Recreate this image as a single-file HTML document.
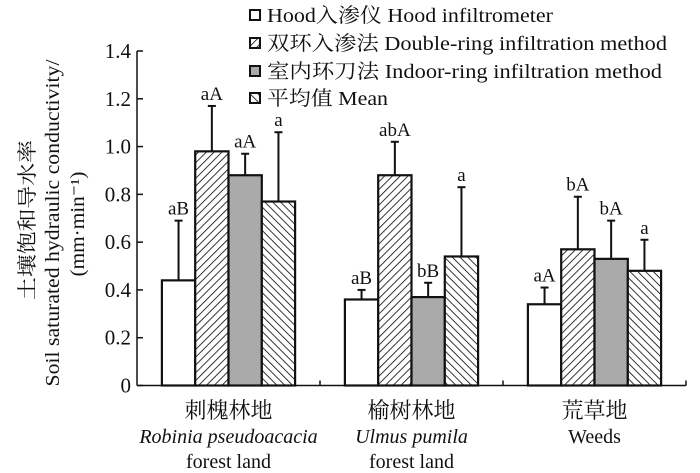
<!DOCTYPE html>
<html><head><meta charset="utf-8"><style>
html,body{margin:0;padding:0;background:#fff;width:700px;height:473px;overflow:hidden}
svg{display:block;font-family:"Liberation Serif","Noto Serif CJK SC","Noto Sans CJK SC",serif}
</style></head><body>
<svg id="chart" width="700" height="473" viewBox="0 0 700 473" xmlns="http://www.w3.org/2000/svg">
<defs>
<pattern id="hatchUp" patternUnits="userSpaceOnUse" width="5.5" height="5.5" patternTransform="rotate(45)"><rect width="6" height="6" fill="#fff"/><line x1="0" y1="0" x2="0" y2="6" stroke="#111" stroke-width="1.7"/></pattern>
<pattern id="hatchDown" patternUnits="userSpaceOnUse" width="5.5" height="5.5" patternTransform="rotate(-45)"><rect width="6" height="6" fill="#fff"/><line x1="0" y1="0" x2="0" y2="6" stroke="#111" stroke-width="1.7"/></pattern>
</defs>
<g id="plot"></g>
</svg>
<script>
const categories = ["刺槐林地", "榆树林地", "荒草地"];
const catLatin1 = ["Robinia pseudoacacia", "Ulmus pumila", "Weeds"];
const catLatin2 = ["forest land", "forest land", ""];
const seriesNames = ["Hood入渗仪 Hood infiltrometer", "双环入渗法 Double-ring infiltration method", "室内环刀法 Indoor-ring infiltration method", "平均值 Mean"];
const hoodValues = [0.44, 0.36, 0.34];
const doubleRingValues = [0.98, 0.88, 0.57];
const indoorRingValues = [0.88, 0.37, 0.53];
const meanValues = [0.77, 0.54, 0.48];
const hoodErrTop = [0.69, 0.40, 0.41];
const doubleRingErrTop = [1.17, 1.02, 0.79];
const indoorRingErrTop = [0.97, 0.43, 0.69];
const meanErrTop = [1.06, 0.83, 0.61];
const hoodLabels = ["aB", "aB", "aA"];
const doubleRingLabels = ["aA", "abA", "bA"];
const indoorRingLabels = ["aA", "bB", "bA"];
const meanLabels = ["a", "a", "a"];
const yTicks = [0, 0.2, 0.4, 0.6, 0.8, 1.0, 1.2, 1.4];
const yTickLabels = ["0", "0.2", "0.4", "0.6", "0.8", "1.0", "1.2", "1.4"];

const NS = "http://www.w3.org/2000/svg";
const g = document.getElementById("plot");
const X0 = 137, X1 = 686, Y0 = 385.5, Y1 = 51, YMAX = 1.4;
const groupW = (X1 - X0) / categories.length;
const barW = 33.3;
function yScale(v){ return Y0 - (v / YMAX) * (Y0 - Y1); }
function groupX(i){ return X0 + i * groupW; }
function barX(gi, si){ return groupX(gi) + (groupW - 4 * barW) / 2 + si * barW; }
function mk(tag, attrs, text){
  const e = document.createElementNS(NS, tag);
  for (const k in attrs) e.setAttribute(k, attrs[k]);
  if (text !== undefined) e.textContent = text;
  g.appendChild(e);
  return e;
}
const fills = ["#fff", "url(#hatchUp)", "#aaaaaa", "url(#hatchDown)"];
const values = [hoodValues, doubleRingValues, indoorRingValues, meanValues];
const errs = [hoodErrTop, doubleRingErrTop, indoorRingErrTop, meanErrTop];
const labels = [hoodLabels, doubleRingLabels, indoorRingLabels, meanLabels];
const keys = ["hood", "double-ring", "indoor-ring", "mean"];

for (let si = 0; si < 4; si++) for (let gi = 0; gi < categories.length; gi++) {
  const cx = barX(gi, si) + barW / 2;
  const l = mk("line", {x1: cx, x2: cx, y1: yScale(values[si][gi]), y2: yScale(errs[si][gi]), stroke: "#111", "stroke-width": 2});
  
  
  const c = mk("line", {x1: cx - 4, x2: cx + 4, y1: yScale(errs[si][gi]), y2: yScale(errs[si][gi]), stroke: "#111", "stroke-width": 2});
  
  
  const t = mk("text", {x: cx, y: yScale(errs[si][gi]) - 6, "text-anchor": "middle", "font-size": 19, fill: "#111"}, labels[si][gi]);
  
  
}
for (let si = 0; si < 4; si++) for (let gi = 0; gi < categories.length; gi++) {
  const y = yScale(values[si][gi]);
  const r = mk("rect", {x: barX(gi, si), y: y, width: barW, height: Y0 - y, fill: fills[si], stroke: "#111", "stroke-width": 2.2});
  
  
}
let a = mk("line", {x1: X0, x2: X0, y1: Y1, y2: Y0, stroke: "#111", "stroke-width": 1.5});


a = mk("line", {x1: X0, x2: X1, y1: Y0, y2: Y0, stroke: "#111", "stroke-width": 1.5});


yTicks.forEach((v, i) => {
  const y = yScale(v);
  const tk = mk("line", {x1: X0, x2: X0 + 6, y1: y, y2: y, stroke: "#111", "stroke-width": 1.5});
  
  
  const tl = mk("text", {x: X0 - 6, y: y + 7, "text-anchor": "end", "font-size": 21, fill: "#111"}, yTickLabels[i]);
  
  
});
for (let gi = 1; gi <= categories.length; gi++) {
  const x = groupX(gi);
  const tk = mk("line", {x1: x, x2: x, y1: Y0, y2: Y0 - 5, stroke: "#111", "stroke-width": 1.5});
  
  
}
categories.forEach((c, gi) => {
  const cx = groupX(gi) + groupW / 2;
  const t1 = mk("text", {x: cx, y: 418, "text-anchor": "middle", "font-size": 22, fill: "#111"}, c);
  
  
  const t2 = mk("text", {x: cx, y: 443, "text-anchor": "middle", "font-size": 20, fill: "#111", "font-style": gi < 2 ? "italic" : "normal"}, catLatin1[gi]);
  
  
  if (catLatin2[gi]) {
    const t3 = mk("text", {x: cx, y: 468, "text-anchor": "middle", "font-size": 20, fill: "#111"}, catLatin2[gi]);
    
    
  }
});
const legendY = [15, 43, 71, 98];
const legendLen = [286, 400, 395, 121];
seriesNames.forEach((n, si) => {
  const r = mk("rect", {x: 250, y: legendY[si] - 5, width: 10, height: 10, fill: fills[si], stroke: "#111", "stroke-width": 2});
  
  
  const t = mk("text", {x: 267, y: legendY[si] + 7, "font-size": 20, fill: "#111", textLength: legendLen[si], lengthAdjust: "spacingAndGlyphs"}, n);
  
  
});
const yt = [["土壤饱和导水率", 28, 160, 220], ["Soil saturated hydraulic conductivity/", 53, 327, 223], ["(mm·min⁻¹)", 78, 105, 224]];
yt.forEach((p) => {
  const t = mk("text", {x: p[1], y: p[3], "text-anchor": "middle", "font-size": 20, fill: "#111", textLength: p[2], lengthAdjust: "spacingAndGlyphs", transform: "rotate(-90 " + p[1] + " " + p[3] + ")", "dominant-baseline": "central"}, p[0]);
  
  
});
</script>
</body></html>
